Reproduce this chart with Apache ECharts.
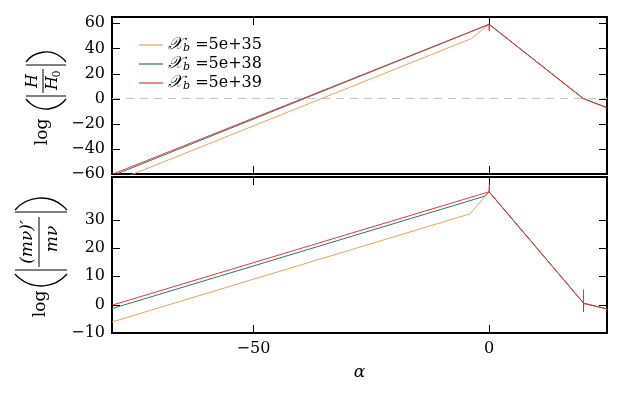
<!DOCTYPE html>
<html>
<head>
<meta charset="utf-8">
<script src="https://cdn.jsdelivr.net/npm/echarts@6/dist/echarts.min.js"></script>
<style>
  html, body { margin: 0; padding: 0; background: #fff; }
  #main { width: 623px; height: 401px; }
</style>
</head>
<body>
<div id="main"></div>
<script>
// legend names (X_b values)
var names = ['5e+35', '5e+38', '5e+39'];
var colors = ['#eea25e', '#2b7a62', '#e8383c'];

// top panel: log(|H/H0|) vs alpha
var alphaTop35 = [-80, -3.8, 0, 20, 25];
var logH35 = [-66.8, 47.8, 59.2, 0, -7.2];
var alphaTop38 = [-80, -1, 0, 20, 25];
var logH38 = [-61.5, 57.6, 59.2, 0, -7.2];
var alphaTop39 = [-80, 0, 0.02, 0.04, 20, 25];
var logH39 = [-60.3, 59.2, 54, 59, 0, -7.2];

// bottom panel: log(|(mv)'/mv|) vs alpha
var alphaBot35 = [-80, -4.1, 0, 20, 20.02, 20.04, 25];
var logM35 = [-6.1, 32.0, 39.8, 0.6, -1.2, 0.5, -1.5];
var alphaBot38 = [-80, -1, 0, 20, 20.02, 20.04, 25];
var logM38 = [-1.4, 38.2, 39.8, 0.6, -2.6, 0.5, -1.5];
var alphaBot39 = [-80, 0, 0.02, 0.04, 20, 20.02, 20.04, 25];
var logM39 = [-0.2, 39.8, 42, 39.6, 0.6, 5.3, 0.4, -1.5];

// tick values
var xTicks = [-50, 0];
var yTicksTop = [-60, -40, -20, 0, 20, 40, 60];
var yTicksBot = [-10, 0, 10, 20, 30];

var serif = '"DejaVu Serif", serif';
var TICK = 8;

function zip(xs, ys) {
    return xs.map(function (x, i) { return [x, ys[i]]; });
}
function minus(v) {
    return v < 0 ? '\u2212' + (-v) : String(v);
}

function xAx(grid, labels) {
    return {
        type: 'value', gridIndex: grid, min: -80, max: 25,
        axisLine: { show: false, onZero: false },
        axisTick: { show: false },
        axisLabel: { show: labels, customValues: xTicks, formatter: minus, margin: 8, color: '#000', fontFamily: serif, fontSize: 16 },
        splitLine: { show: false }
    };
}
function yAx(grid, min, max, ticks) {
    return {
        type: 'value', gridIndex: grid, min: min, max: max,
        axisLine: { show: false, onZero: false },
        axisTick: { show: false },
        axisLabel: { customValues: ticks, formatter: minus, margin: 7, color: '#000', fontFamily: serif, fontSize: 16 },
        splitLine: { show: false }
    };
}
function lineSeries(i, gi, data) {
    return {
        name: names[i], type: 'line', xAxisIndex: gi, yAxisIndex: gi,
        data: data, symbol: 'none', showSymbol: false,
        lineStyle: { color: colors[i], width: 1 },
        itemStyle: { color: colors[i] },
        emphasis: { disabled: true }
    };
}

// inward ticks on all four sides, placed through the axis scales
function tickSeries(gi, vals, isX) {
    return {
        type: 'custom', xAxisIndex: gi, yAxisIndex: gi, silent: true, z: 5,
        data: vals.map(function (v) { return isX ? [v, 0] : [0, v]; }),
        renderItem: function (params, api) {
            var cs = params.coordSys;
            var p = api.coord([api.value(0), api.value(1)]);
            var st = { stroke: '#000', lineWidth: 1 };
            if (isX) {
                var x = Math.round(p[0]) + 0.5;
                return { type: 'group', children: [
                    { type: 'line', shape: { x1: x, y1: cs.y + cs.height, x2: x, y2: cs.y + cs.height - TICK }, style: st },
                    { type: 'line', shape: { x1: x, y1: cs.y, x2: x, y2: cs.y + TICK }, style: st }
                ] };
            }
            var y = Math.round(p[1]) + 0.5;
            return { type: 'group', children: [
                { type: 'line', shape: { x1: cs.x, y1: y, x2: cs.x + TICK, y2: y }, style: st },
                { type: 'line', shape: { x1: cs.x + cs.width, y1: y, x2: cs.x + cs.width - TICK, y2: y }, style: st }
            ] };
        }
    };
}

// rotated y axis titles drawn as graphic groups
function arc(apex, half, sag, right) {
    var r = (half * half + sag * sag) / (2 * sag);
    var th = Math.asin(half / r);
    return {
        type: 'arc',
        shape: right
            ? { cx: apex - r, cy: 0, r: r, startAngle: -th, endAngle: th, clockwise: true }
            : { cx: apex + r, cy: 0, r: r, startAngle: Math.PI - th, endAngle: Math.PI + th, clockwise: true },
        style: { stroke: '#000', lineWidth: 1.3, fill: null }
    };
}
function seg(x1, y1, x2, y2) {
    return { type: 'line', shape: { x1: x1, y1: y1, x2: x2, y2: y2 }, style: { stroke: '#000', lineWidth: 1 } };
}
function txt(x, y, s, font) {
    return {
        type: 'text', x: x, y: y,
        style: { text: s, font: font, fill: '#000', align: 'center', verticalAlign: 'middle', textAlign: 'center', textVerticalAlign: 'middle' }
    };
}

var topTitle = {
    type: 'group', x: 46, y: 81, rotation: Math.PI / 2,
    children: [
        txt(-51, -3, 'log', '17px ' + serif),
        arc(-28, 20, 10, false),
        seg(-15, -20, -15, 20),
        txt(0, -13, 'H', 'italic 16px ' + serif),
        seg(-12, -3, 12, -3),
        txt(-2, 7, 'H', 'italic 16px ' + serif),
        txt(7, 11, '0', '11px ' + serif),
        seg(16, -20, 16, 20),
        arc(29, 20, 10, true)
    ]
};
var botTitle = {
    type: 'group', x: 41, y: 242, rotation: Math.PI / 2,
    children: [
        txt(-62, 0, 'log', '17px ' + serif),
        arc(-44, 26, 12, false),
        seg(-28, -26, -28, 26),
        txt(0, -13, '(m\u03bd)\u2032', 'italic 17px ' + serif),
        seg(-25, -2, 25, -2),
        txt(3, 12, 'm\u03bd', 'italic 17px ' + serif),
        seg(30, -26, 30, 26),
        arc(44, 26, 12, true)
    ]
};

var chart = echarts.init(document.getElementById('main'), null, { renderer: 'canvas' });
var option = {
    animation: false,
    backgroundColor: '#fff',
    grid: [
        { left: 112, top: 17, width: 495, height: 157, show: true, borderColor: '#000', borderWidth: 2, backgroundColor: 'transparent' },
        { left: 112, top: 177, width: 495, height: 156, show: true, borderColor: '#000', borderWidth: 2, backgroundColor: 'transparent' }
    ],
    legend: {
        orient: 'vertical', left: 134, top: 31, itemGap: 1,
        itemWidth: 24, itemHeight: 1.2, icon: 'rect',
        data: names,
        formatter: function (n) { return '{x|\ud835\udcb3}{s|b} =' + n; },
        textStyle: {
            color: '#000', fontFamily: serif, fontSize: 16, lineHeight: 18,
            rich: {
                x: { fontFamily: serif, fontSize: 17, fontStyle: 'italic', lineHeight: 18 },
                s: { fontFamily: serif, fontSize: 11, fontStyle: 'italic', verticalAlign: 'bottom', lineHeight: 14 }
            }
        }
    },
    xAxis: [
        xAx(0, false),
        Object.assign(xAx(1, true), {
            name: '\u03b1', nameLocation: 'middle', nameGap: 31,
            nameTextStyle: { color: '#000', fontFamily: serif, fontStyle: 'italic', fontSize: 17 }
        })
    ],
    yAxis: [
        yAx(0, -60, 65, yTicksTop),
        yAx(1, -10, 45, yTicksBot)
    ],
    graphic: [topTitle, botTitle],
    series: [
        Object.assign(lineSeries(0, 0, zip(alphaTop35, logH35)), {
            markLine: {
                silent: true, symbol: 'none', label: { show: false },
                lineStyle: { color: '#c4c4c4', type: [8, 6], width: 1 },
                data: [{ yAxis: 0 }]
            }
        }),
        lineSeries(1, 0, zip(alphaTop38, logH38)),
        lineSeries(2, 0, zip(alphaTop39, logH39)),
        lineSeries(0, 1, zip(alphaBot35, logM35)),
        lineSeries(1, 1, zip(alphaBot38, logM38)),
        lineSeries(2, 1, zip(alphaBot39, logM39)),
        tickSeries(0, xTicks, true),
        tickSeries(0, yTicksTop, false),
        tickSeries(1, xTicks, true),
        tickSeries(1, yTicksBot, false)
    ]
};
chart.setOption(option);
</script>
</body>
</html>
